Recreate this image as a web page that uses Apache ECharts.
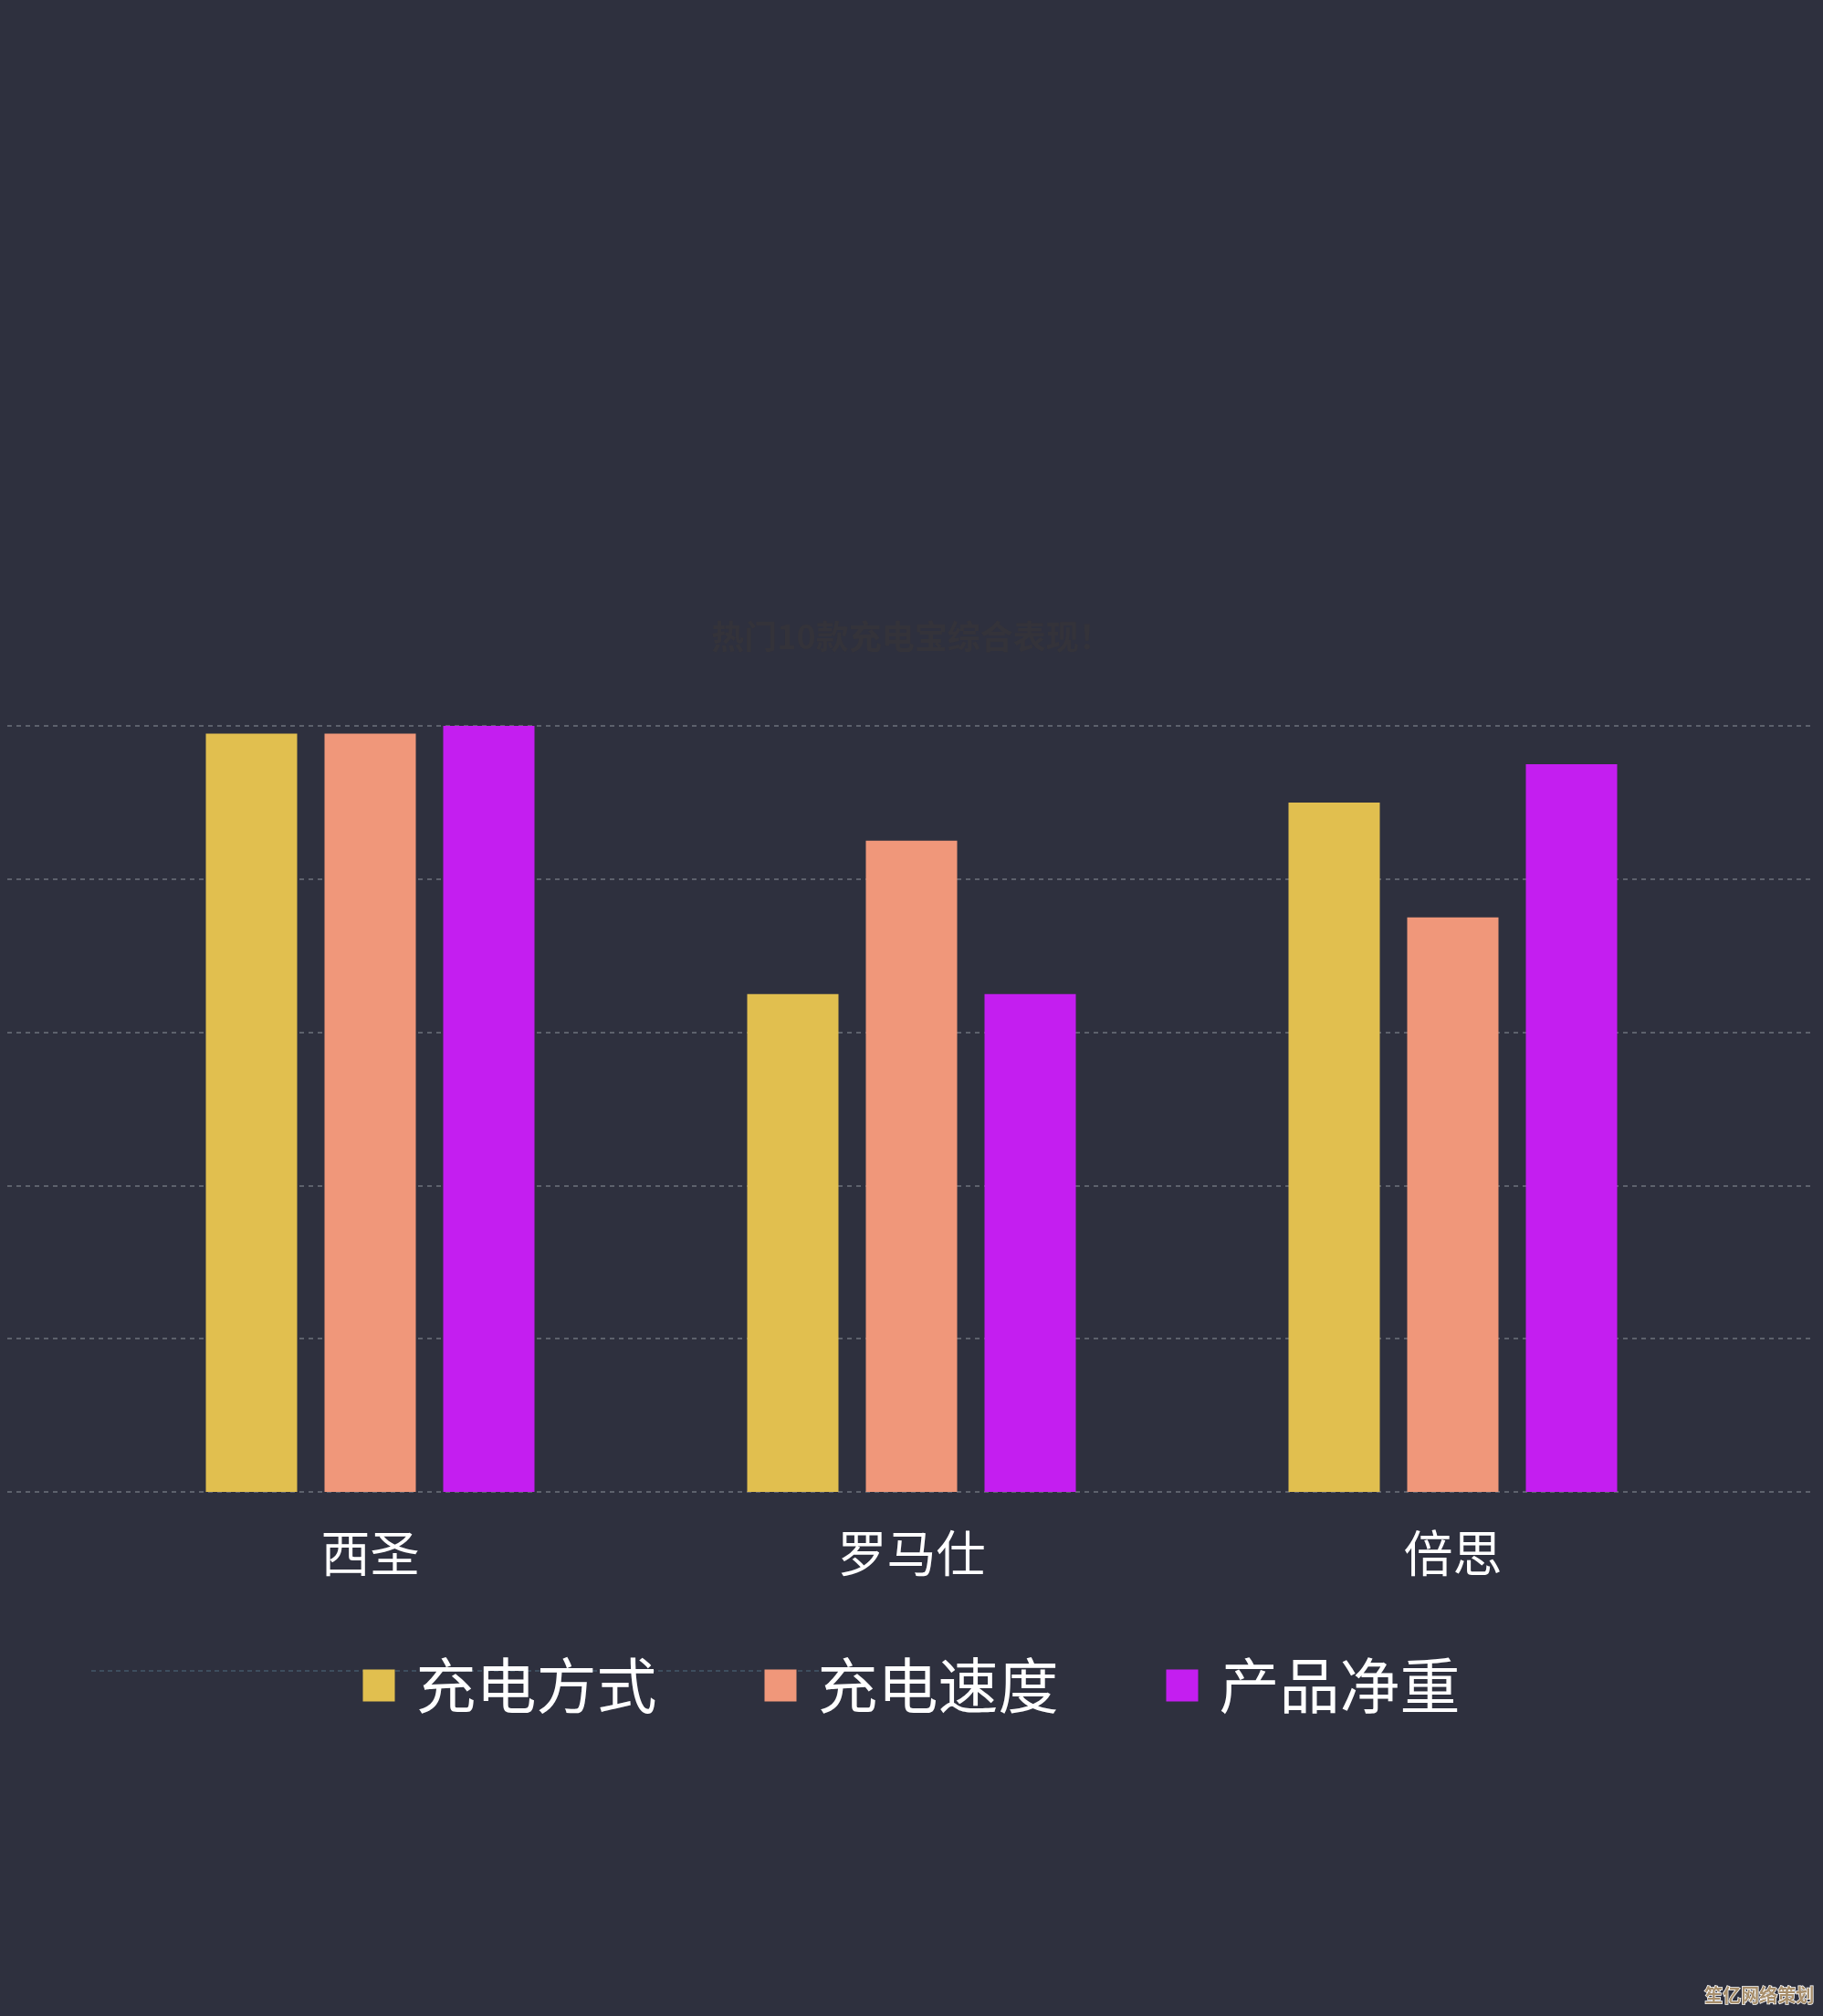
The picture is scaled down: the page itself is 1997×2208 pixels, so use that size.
<!DOCTYPE html>
<html><head><meta charset="utf-8">
<script src="https://cdn.jsdelivr.net/npm/echarts@6/dist/echarts.min.js"></script>
<style>html,body{margin:0;padding:0;background:#2e303e;}#c{width:1997px;height:2208px;}</style>
</head><body><div id="c"></div>
<script>
const titleText = '热门10款充电宝综合表现！';
const categories = ['西圣', '罗马仕', '倍思'];
const seriesNames = ['充电方式', '充电速度', '产品净重'];
const chargeMethod = [4.95, 3.25, 4.5];
const chargeSpeed = [4.95, 4.25, 3.75];
const netWeight = [5.0, 3.25, 4.75];
const colors = ['#e1bf4f', '#f0977a', '#c41ef0'];
const font = '"Noto Sans CJK SC", "Noto Sans", sans-serif';

const chart = echarts.init(document.getElementById('c'), null, {renderer: 'canvas'});
const values = [chargeMethod, chargeSpeed, netWeight];
chart.setOption({
  backgroundColor: '#2e303e',
  animation: false,
  title: {text: titleText, left: 'center', top: 674,
    textStyle: {color: '#34333a', fontSize: 36, fontWeight: 'bold', fontFamily: font}},
  legend: {
    data: seriesNames, top: 1811, left: 'center', icon: 'rect',
    itemWidth: 35, itemHeight: 35, itemGap: 118, padding: 0,
    textStyle: {color: '#ffffff', fontSize: 66, fontFamily: font, padding: [0,0,0,18], lineHeight: 70}
  },
  grid: [
    {left: 109, right: 109, top: 795, bottom: 574},
    {left: 8, right: 13, top: 795, bottom: 574}
  ],
  xAxis: [
    {type: 'category', gridIndex: 0, data: categories,
      axisLine: {show: false}, axisTick: {show: false},
      axisLabel: {color: '#ffffff', fontSize: 54, margin: 40, fontFamily: font}},
    {type: 'value', gridIndex: 1, min: 0, max: 1, show: false}
  ],
  yAxis: [
    {type: 'value', gridIndex: 0, min: 0, max: 5, interval: 1, show: false, splitLine: {show: false}},
    {type: 'value', gridIndex: 1, min: 0, max: 5, interval: 1,
      axisLine: {show: false}, axisTick: {show: false}, axisLabel: {show: false},
      splitLine: {show: true, lineStyle: {color: '#6d717c', type: [5, 5], width: 1.5}}}
  ],
  series: seriesNames.map((n, i) => ({
    name: n, type: 'bar', xAxisIndex: 0, yAxisIndex: 0,
    data: values[i], barWidth: 100, barGap: '30%',
    itemStyle: {color: colors[i]}
  })),
  graphic: [
    {type: 'line', shape: {x1: 100, y1: 1830, x2: 900, y2: 1830}, z: -1,
      style: {stroke: '#4f6a7e', lineWidth: 1, lineDash: [5, 4]}},
    {type: 'text', right: 9, bottom: 12,
      style: {text: '笙亿网络策划', fontSize: 20, fontWeight: 'bold', fontFamily: font,
        fill: '#a88f6c', stroke: '#ffffff', lineWidth: 1.5}}
  ]
});
</script></body></html>
